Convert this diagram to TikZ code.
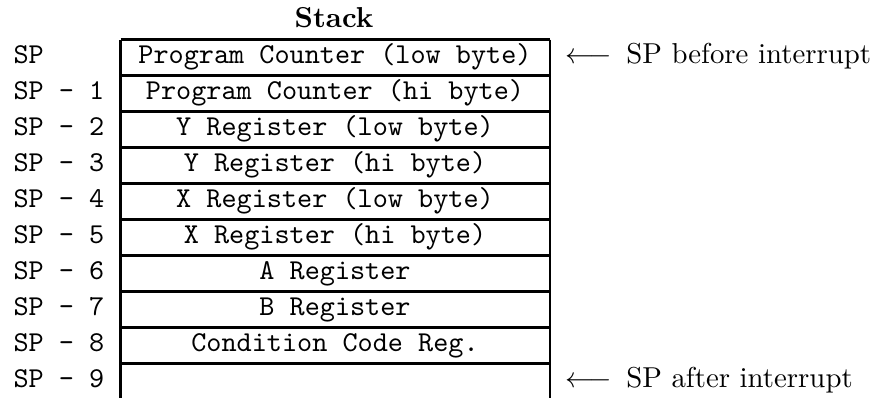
\documentclass[tikz,border=0pt]{standalone}
\begin{document}
\begin{tikzpicture}[x=0.3472pt,y=-0.3472pt,
  vline/.style={line width=0.85pt},
  hline/.style={line width=0.7pt},
  cell/.style={font=\ttfamily, anchor=base, inner sep=0pt},
  lbl/.style={font=\ttfamily, anchor=base west, inner sep=0pt},
  note/.style={anchor=base west, inner sep=0pt}]
\useasboundingbox (0,0) rectangle (876,398);
\node[font=\bfseries, anchor=base, inner sep=0pt] (title) at (334,27) {Stack};
% frame
\coordinate (tl) at (120.5,39.5);
\coordinate (tr) at (550,39.5);
\coordinate (bl) at (120.5,398);
\coordinate (br) at (550,398);
\draw[hline] (tl) -- (tr);
\foreach \i in {1,...,9} {
  \coordinate (l\i) at (120.5,39.5+36*\i);
  \coordinate (r\i) at (550,39.5+36*\i);
  \draw[hline] (l\i) -- (r\i);
}
\draw[vline] (tl) -- (bl);
\draw[vline] (tr) -- (br);
% cells
\node[cell] (c0) at (335,63) {Program Counter (low byte)};
\node[cell] (c1) at (335,99) {Program Counter (hi byte)};
\node[cell] (c2) at (335,135) {Y Register (low byte)};
\node[cell] (c3) at (335,171) {Y Register (hi byte)};
\node[cell] (c4) at (335,207) {X Register (low byte)};
\node[cell] (c5) at (335,243) {X Register (hi byte)};
\node[cell] (c6) at (335,279) {A Register};
\node[cell] (c7) at (335,315) {B Register};
\node[cell] (c8) at (335,351) {Condition Code Reg.};
% left labels
\node[lbl] (s0) at (13,63) {SP};
\node[lbl] (s1) at (13,99) {SP - 1};
\node[lbl] (s2) at (13,135) {SP - 2};
\node[lbl] (s3) at (13,171) {SP - 3};
\node[lbl] (s4) at (13,207) {SP - 4};
\node[lbl] (s5) at (13,243) {SP - 5};
\node[lbl] (s6) at (13,279) {SP - 6};
\node[lbl] (s7) at (13,315) {SP - 7};
\node[lbl] (s8) at (13,351) {SP - 8};
\node[lbl] (s9) at (13,387) {SP - 9};
% right notes
\node[note] (before) at (565,63) {$\longleftarrow$\ \,SP before interrupt};
\node[note] (after) at (565,387) {$\longleftarrow$\ \,SP after interrupt};
\end{tikzpicture}
\end{document}
